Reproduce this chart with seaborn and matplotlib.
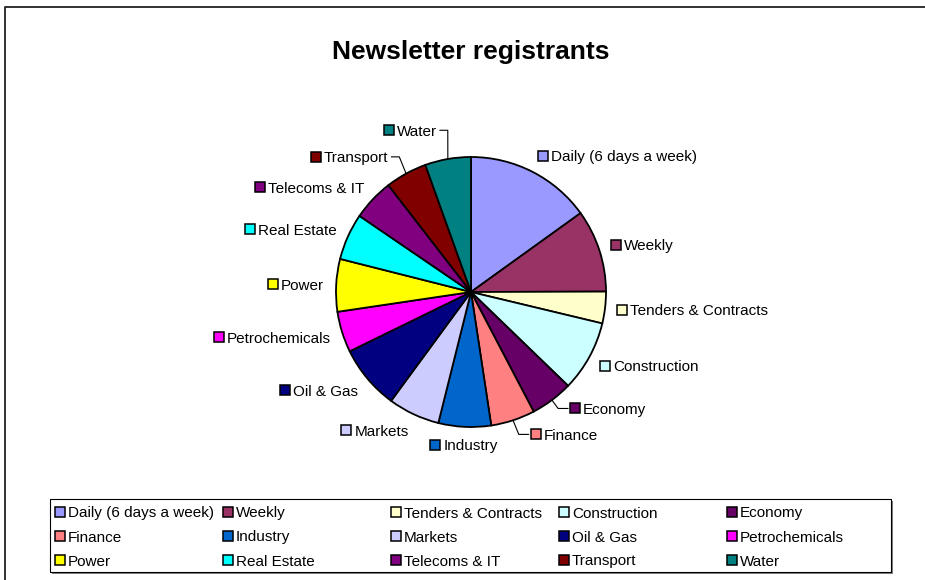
import matplotlib
matplotlib.use("Agg")
import matplotlib.pyplot as plt
from matplotlib.patches import Rectangle
import numpy as np
import seaborn as sns

# ------------------------------------------------------------
# data
# ------------------------------------------------------------
categories = ["Daily (6 days a week)", "Weekly", "Tenders & Contracts", "Construction", "Economy",
              "Finance", "Industry", "Markets", "Oil & Gas", "Petrochemicals",
              "Power", "Real Estate", "Telecoms & IT", "Transport", "Water"]
registrants = [151, 99, 38, 85, 51, 53, 63, 62, 77, 49, 63, 56, 50, 50, 55]
slice_colors = ["#9999FF", "#993366", "#FFFFCC", "#CCFFFF", "#660066",
                "#FF8080", "#0066CC", "#CCCCFF", "#000080", "#FF00FF",
                "#FFFF00", "#00FFFF", "#800080", "#800000", "#008080"]
title = "Newsletter registrants"

# labels that Excel pushed aside (dx, dy in px, y down) and drew with a leader line
MOVED = {"Water": (-9, -11, "right"),
         "Transport": (-12, -1, None),
         "Economy": (11, -6, None),
         "Finance": (14, -3, None)}

sns.set_theme(style="white")
plt.rcParams["font.family"] = ["Liberation Sans", "DejaVu Sans"]
plt.rcParams["text.color"] = "black"

W, H = 925, 580
FS = 11
CAP = 11.0      # cap height in px at 11pt
KEY = 10        # key square size, px
GAP = 3

fig = plt.figure(figsize=(W / 100, H / 100), dpi=100)
ax = fig.add_axes([0, 0, 1, 1])
palette = sns.color_palette(slice_colors)

CX, CY, R = 471, H - 292, 135
wedges, _ = ax.pie(registrants, colors=palette, startangle=90, counterclock=False,
                   center=(CX, CY), radius=R,
                   wedgeprops=dict(edgecolor="black", linewidth=1.3))
ax.set_xlim(0, W)
ax.set_ylim(0, H)
ax.set_aspect("equal")
ax.axis("off")


def draw_key(x, y, color):
    ax.add_patch(Rectangle((x, y - KEY / 2), KEY, KEY, facecolor=color,
                           edgecolor="black", linewidth=1.1, zorder=4))


# outer chart frame (only top/left visible in the reference)
ax.plot([5, 5, W + 5], [-5, H - 7, H - 7], color="#222222", lw=1.3, zorder=1)

ax.text(471, H - 59, title, ha="center", va="baseline", fontsize=19,
        fontweight="bold", color="black")

# ---------------- slice labels ----------------
renderer = fig.canvas.get_renderer()
LABEL_D = 147
for wedge, name, color in zip(wedges, categories, palette):
    mid = np.deg2rad((wedge.theta1 + wedge.theta2) / 2)
    ux, uy = np.cos(mid), np.sin(mid)
    x = CX + LABEL_D * ux
    y = CY + LABEL_D * uy + 6 * uy
    ha = "left" if ux > 0.3 else ("right" if ux < -0.3 else "center")
    if name in MOVED:
        dx, dy, ha_m = MOVED[name]
        x += dx
        y -= dy
        if ha_m:
            ha = ha_m
    t = ax.text(0, y - CAP / 2, name, fontsize=FS, va="baseline", ha="left",
                color="black", zorder=5)
    tw = t.get_window_extent(renderer).width
    total = KEY + GAP + tw
    if ha == "left":
        x0 = x
    elif ha == "right":
        x0 = x - total
    else:
        x0 = x - total / 2
    draw_key(x0, y, color)
    t.set_x(x0 + KEY + GAP)
    if name in MOVED:
        ex, ey = CX + R * ux, CY + R * uy
        if ha == "right":
            a = x0 + total + 3
            b = a + 8
        else:
            a = x0 - 2
            b = a - 10
        ax.plot([a, b, ex], [y, y, ey], color="black", lw=0.8, zorder=3)

# ---------------- legend box ----------------
LX, LY_TOP, LW, LH = 50, 499, 841, 73
ax.add_patch(Rectangle((LX + 1.5, H - LY_TOP - LH - 1.5), LW, LH, facecolor="#808080",
                       edgecolor="none", zorder=2))
ax.add_patch(Rectangle((LX, H - LY_TOP - LH), LW, LH, facecolor="white",
                       edgecolor="black", linewidth=0.8, zorder=2))
for i, (name, color) in enumerate(zip(categories, palette)):
    r, c = divmod(i, 5)
    x = 55 + c * 168
    y = H - (512 + 24 * r)
    draw_key(x, y, color)
    ax.text(x + KEY + GAP, y - CAP / 2, name, fontsize=FS, va="baseline", ha="left",
            color="black", zorder=5)

fig.savefig("out.png", dpi=100)
